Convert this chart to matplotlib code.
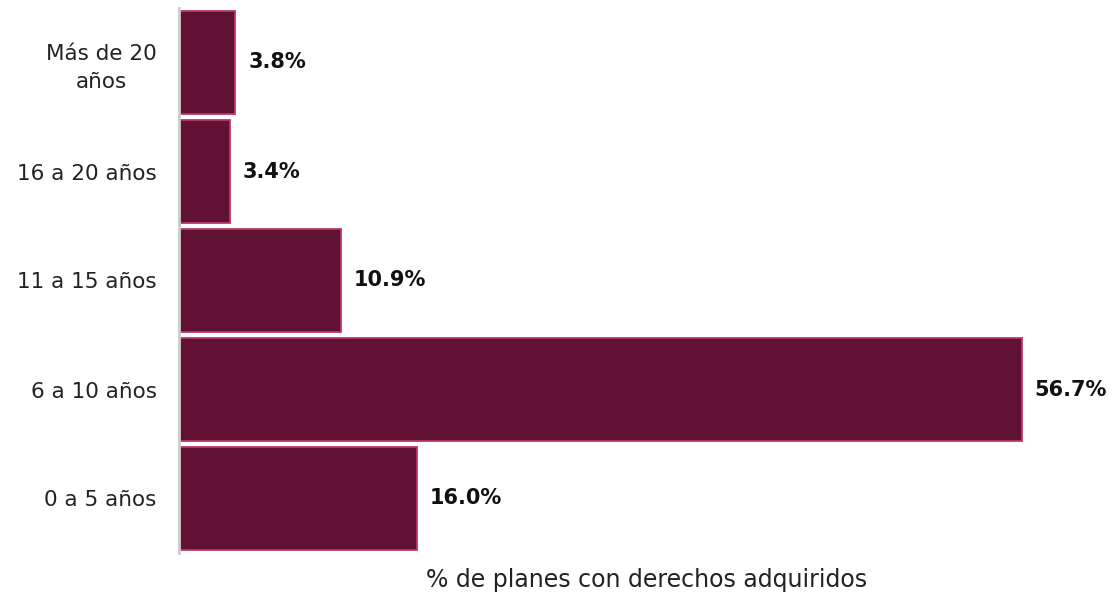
import matplotlib.pyplot as plt

categories = ["0 a 5 años", "6 a 10 años", "11 a 15 años", "16 a 20 años", "Más de 20\naños"]
values = [16.0, 56.7, 10.9, 3.4, 3.8]

plt.rcParams['font.family'] = ['DejaVu Sans']

fig = plt.figure(figsize=(11.14, 5.97), dpi=100)
ax = fig.add_axes([179 / 1114, 44 / 597, (1114 - 179) / 1114, 545 / 597])

pos = range(len(categories))
ax.barh(pos, values, height=0.95, color='#611232', edgecolor='#b8376a', linewidth=1.3)

for p, v in zip(pos, values):
    ax.text(v + 0.85, p, f"{v:.1f}%", va='center', ha='left',
            fontsize=15, fontweight='bold', color='#111111')

ax.set_xlim(0, 62.9)
ax.set_ylim(-0.5, 4.5)
ax.set_yticks(list(pos))
ax.set_yticklabels(categories, fontsize=15.5, color='#222222')
for lbl in ax.get_yticklabels():
    lbl.set_multialignment('center')
    lbl.set_linespacing(1.45)
ax.tick_params(axis='y', length=0, pad=16)
ax.set_xticks([])
ax.set_xlabel("% de planes con derechos adquiridos", fontsize=17, color='#222222', labelpad=11)

for s in ['top', 'right', 'bottom']:
    ax.spines[s].set_visible(False)
ax.spines['left'].set_color('#cccccc')
ax.spines['left'].set_linewidth(2)

fig.savefig('out.png', dpi=100)
